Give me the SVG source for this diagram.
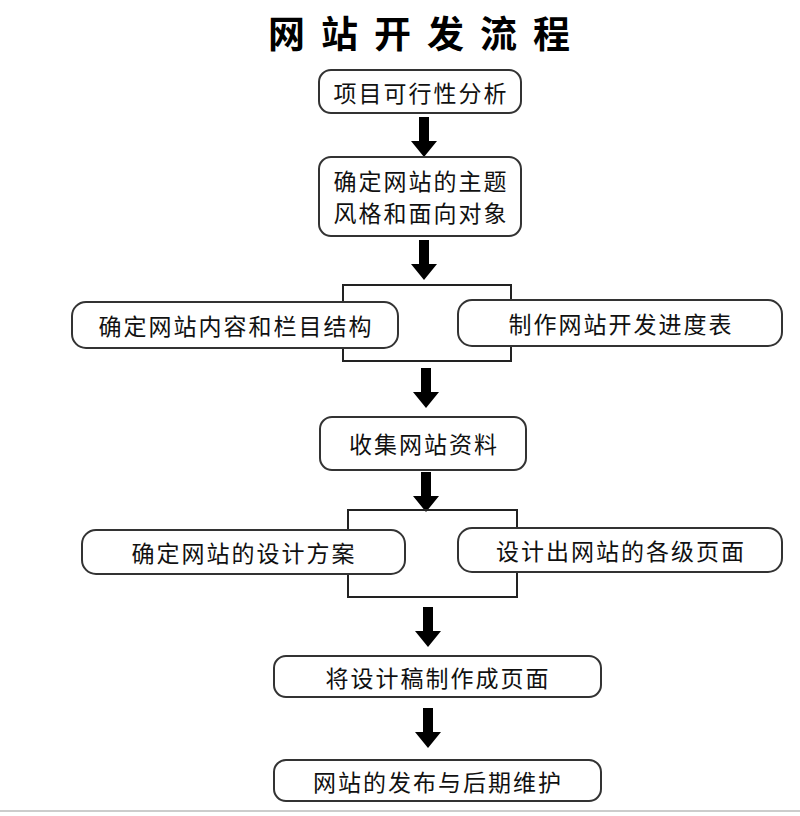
<svg xmlns="http://www.w3.org/2000/svg" width="800" height="816" viewBox="0 0 800 816">
<style>
.b{fill:#fff;stroke:#333;stroke-width:2}
.t{font-family:"Noto Sans CJK SC",sans-serif;font-size:23px;letter-spacing:2px;fill:#111;text-anchor:middle;dominant-baseline:central}
.br{fill:none;stroke:#222;stroke-width:2}
</style>
<defs>
<path id="ar" d="M-5,0 H5 V24 H13 L0,40 L-13,24 H-5 Z" fill="#000"/>
</defs>
<rect width="800" height="816" fill="#fff"/>
<line x1="0" y1="811" x2="800" y2="811" stroke="#ccc" stroke-width="2"/>
<text x="427" y="32" font-family="Noto Sans CJK SC,sans-serif" font-size="37" font-weight="bold" text-anchor="middle" dominant-baseline="central" letter-spacing="16">网站开发流程</text>
<g id="connectors">
<use href="#ar" x="424" y="117"/>
<use href="#ar" x="424" y="240"/>
<rect class="br" x="343" y="285" width="168" height="76"/>
<use href="#ar" x="426" y="368"/>
<use href="#ar" x="426" y="472"/>
<rect class="br" x="348" y="510" width="169" height="87"/>
<use href="#ar" x="428" y="607"/>
<use href="#ar" x="428" y="708"/>
</g>
<g id="n1"><rect class="b" x="319" y="70" width="202" height="43" rx="12"/><text class="t" x="421" y="92">项目可行性分析</text></g>
<g id="n2"><rect class="b" x="319" y="157" width="202" height="79" rx="12"/><text class="t" x="421" y="180">确定网站的主题</text><text class="t" x="421" y="212">风格和面向对象</text></g>
<g id="n3"><rect class="b" x="72" y="302" width="326" height="46" rx="14"/><text class="t" x="236" y="325">确定网站内容和栏目结构</text></g>
<g id="n4"><rect class="b" x="458" y="300" width="324" height="46" rx="14"/><text class="t" x="621" y="323">制作网站开发进度表</text></g>
<g id="n5"><rect class="b" x="320" y="417" width="206" height="53" rx="12"/><text class="t" x="424" y="443">收集网站资料</text></g>
<g id="n6"><rect class="b" x="82" y="530" width="323" height="44" rx="14"/><text class="t" x="244" y="552">确定网站的设计方案</text></g>
<g id="n7"><rect class="b" x="458" y="528" width="324" height="44" rx="14"/><text class="t" x="621" y="550">设计出网站的各级页面</text></g>
<g id="n8"><rect class="b" x="274" y="656" width="327" height="41" rx="12"/><text class="t" x="438" y="677">将设计稿制作成页面</text></g>
<g id="n9"><rect class="b" x="274" y="760" width="327" height="41" rx="12"/><text class="t" x="438" y="781">网站的发布与后期维护</text></g>
</svg>
